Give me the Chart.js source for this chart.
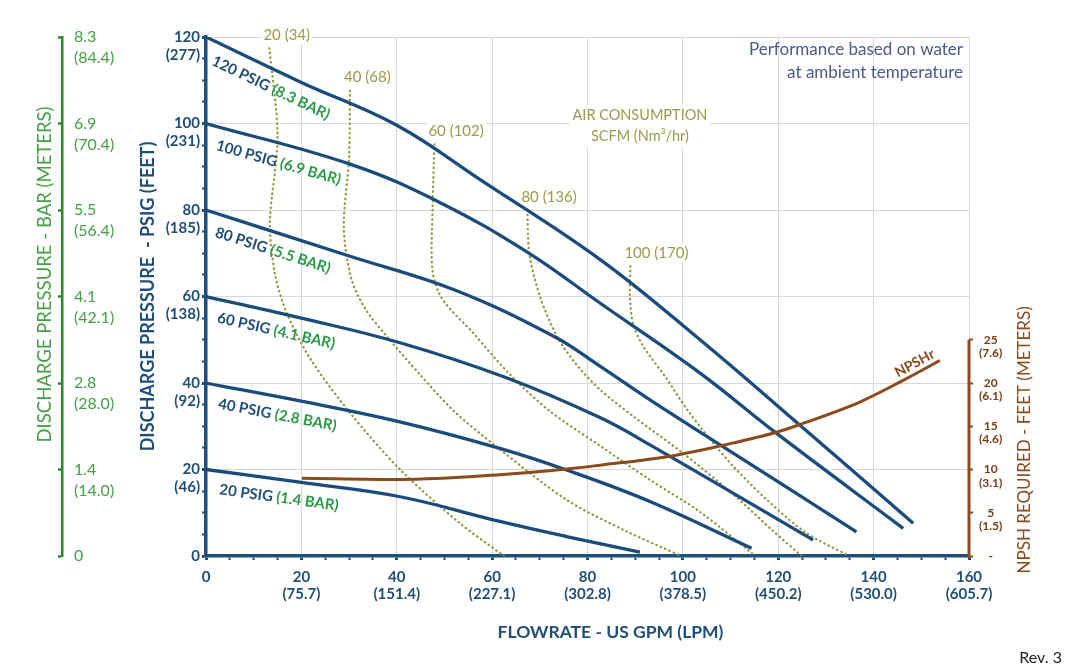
<!DOCTYPE html>
<html>
<head>
<meta charset="utf-8">
<script src="https://cdn.jsdelivr.net/npm/chart.js@4.4.1/dist/chart.umd.min.js"></script>
<style>
html,body{margin:0;padding:0;background:#fff;}
#wrap{position:relative;width:1066px;height:670px;}
#rev{position:absolute;right:4px;top:647px;font:16px Lato, sans-serif;color:#222;}
</style>
</head>
<body>
<div id="wrap"><canvas id="c"></canvas><div id="rev">Rev. 3</div></div>
<script>
// ---------- DATA ----------
const flowTickValues = [0, 20, 40, 60, 80, 100, 120, 140, 160];
const flowTickLabels = [['0'], ['20','(75.7)'], ['40','(151.4)'], ['60','(227.1)'], ['80','(302.8)'], ['100','(378.5)'], ['120','(450.2)'], ['140','(530.0)'], ['160','(605.7)']];

const psigTickValues = [0, 20, 40, 60, 80, 100, 120];
const psigTickLabels = [['0',''], ['20','(46)'], ['40','(92)'], ['60','(138)'], ['80','(185)'], ['100','(231)'], ['120','(277)']];
const barTickLabels  = [['0',''], ['1.4','(14.0)'], ['2.8','(28.0)'], ['4.1','(42.1)'], ['5.5','(56.4)'], ['6.9','(70.4)'], ['8.3','(84.4)']];

const npshTickValues = [0, 5, 10, 15, 20, 25];
const npshTickLabels = [['-',''], ['5','(1.5)'], ['10','(3.1)'], ['15','(4.6)'], ['20','(6.1)'], ['25','(7.6)']];

// Discharge pressure curves [GPM, PSIG]
const psig120 = [[0,120],[20,109.5],[40,99.6],[57.4,87.1],[82.6,68.6],[103.6,50],[124.5,30.3],[148.3,7.6]];
const psig100 = [[0,100],[30.2,90.6],[49.1,81.7],[67.6,70.1],[82.6,58.5],[103.6,42.3],[119.6,28.4],[146.2,6.4]];
const psig80  = [[0,80],[30.2,69.3],[51.9,61.6],[72.9,50.8],[82.6,43.9],[93.1,36.1],[108.4,25.3],[136.4,5.6]];
const psig60  = [[0,60],[20,55],[40.7,49.3],[63,41.2],[82.6,32],[93.1,25.7],[127.3,3.7]];
const psig40  = [[0,40],[20,35.8],[40,31.2],[61.6,24.9],[75.6,19.9],[93.1,12.6],[114.4,1.8]];
const psig20  = [[0,20],[20,17],[40.7,13.7],[61.6,8],[75.6,4.5],[91,0.9]];
const psigNames = ['120 PSIG', '100 PSIG', '80 PSIG', '60 PSIG', '40 PSIG', '20 PSIG'];
const barNames  = ['(8.3 BAR)', '(6.9 BAR)', '(5.5 BAR)', '(4.1 BAR)', '(2.8 BAR)', '(1.4 BAR)'];

// Air consumption curves [GPM, PSIG]
const air20  = [[13.3,117.4],[15,97],[13.4,77],[14.5,65],[17,56],[22,45.4],[30.2,33.1],[40.7,20],[53.2,7.6],[62.5,0]];
const air40  = [[30.2,107.6],[30,92],[28.9,76],[30.5,64],[33.5,57],[37.9,50.8],[44.9,41.9],[52,33.5],[60.9,25.3],[75.6,13],[88,5.8],[99.7,0]];
const air60  = [[47.9,95.2],[47.5,80],[47.5,66],[49.5,59.5],[56,51.6],[63.7,42],[72.1,33.5],[82.6,25.5],[93.1,17.6],[103.6,10.2],[115.2,0]];
const air80  = [[67.4,80],[67.8,70],[70,60.1],[73.5,51],[77.5,44.5],[82.6,38.5],[89.6,32.3],[100,23.8],[110.6,14.2],[118.9,5.8],[124.9,0]];
const air100 = [[89,67],[88.9,60],[89.6,53.5],[91.7,48.5],[96.6,41],[100.8,34],[105.7,27],[110.6,20.7],[117.6,13],[125.9,5.3],[134.9,0]];
const airNames = ['20 (34)', '40 (68)', '60 (102)', '80 (136)', '100 (170)'];

// NPSH required [GPM, FEET]
const npshCurve = [[20.1,9.0],[40.7,8.85],[61.6,9.4],[75.6,10.05],[82.6,10.5],[98,11.6],[108.4,12.8],[119.6,14.3],[124.5,15.2],[137.1,17.8],[145.5,20.1],[153.9,22.6]];

// ---------- STYLE ----------
const BLUE = '#1f4e79';
const CURVE = '#194b7c';
const GREEN_AX = '#2b8a2b';
const GREEN_TX = '#45a045';
const GREEN_LBL = '#2a9a48';
const OLIVE_DOT = '#8a983a';
const OLIVE_TX = '#9a9b48';
const BROWN = '#8a4a1c';
const GRID = '#d9d9d9';
const FONT = "Lato, 'Open Sans', sans-serif";
Chart.defaults.font.family = FONT;

const pressureCurves = [psig120, psig100, psig80, psig60, psig40, psig20];
const airCurves = [air20, air40, air60, air80, air100];
const toXY = arr => arr.map(([x, y]) => ({x, y}));

const datasets = [];
datasets.push({label: 'NPSHr', data: toXY(npshCurve), xAxisID: 'x', yAxisID: 'yN', showLine: true,
  borderColor: BROWN, borderWidth: 3, pointRadius: 0, cubicInterpolationMode: 'monotone'});
pressureCurves.forEach((c, i) => datasets.push({label: psigNames[i], data: toXY(c), xAxisID: 'x', yAxisID: 'y',
  showLine: true, borderColor: CURVE, borderWidth: 3.3, pointRadius: 0, tension: 0.4}));
airCurves.forEach((c, i) => datasets.push({label: airNames[i], data: toXY(c), xAxisID: 'x', yAxisID: 'y',
  showLine: true, borderColor: OLIVE_DOT, borderWidth: 2.2, borderDash: [0.5, 4.2], borderCapStyle: 'round',
  pointRadius: 0, tension: 0.3}));

const labelFor = (values, labels) => v => { const i = values.indexOf(v); return i >= 0 ? labels[i] : ''; };

const AIR_FONT = '15px ' + FONT;
const airLabelPos = (x, y, c) => [x.getPixelForValue(c[0][0]) - 6, y.getPixelForValue(c[0][1]) - 13];

const annotations = {
  id: 'annotations',
  beforeDatasetsDraw(chart) {
    const {ctx, scales: {x, y}} = chart;
    ctx.save();
    ctx.fillStyle = '#fff';
    ctx.font = AIR_FONT;
    airCurves.forEach((c, i) => {
      const [X, Y] = airLabelPos(x, y, c);
      const w = ctx.measureText(airNames[i]).width;
      ctx.fillRect(X - 2, Y - 9, w + 4, 18);
    });
    const cx = x.getPixelForValue(91), cy = y.getPixelForValue(102);
    ctx.fillRect(cx - 70, cy - 10, 140, 42);
    ctx.restore();
  },
  afterDatasetsDraw(chart) {
    const {ctx, chartArea, scales: {x, y, yN}} = chart;
    ctx.save();
    ctx.textBaseline = 'middle';
    ctx.textAlign = 'left';
    // pressure curve labels, following each curve's starting slope
    pressureCurves.forEach((c, i) => {
      const p0 = c[0];
      const p1 = c.find(p => p[0] >= 20);
      const X0 = x.getPixelForValue(p0[0]), Y0 = y.getPixelForValue(p0[1]);
      const X1 = x.getPixelForValue(p1[0]), Y1 = y.getPixelForValue(p1[1]);
      const ang = Math.atan2(Y1 - Y0, X1 - X0);
      ctx.save();
      ctx.translate(X0, Y0);
      ctx.rotate(ang);
      ctx.font = 'bold 15px ' + FONT;
      ctx.fillStyle = BLUE;
      ctx.fillText(psigNames[i], 16, 18);
      const w = ctx.measureText(psigNames[i] + ' ').width;
      ctx.fillStyle = GREEN_LBL;
      ctx.fillText(barNames[i], 16 + w, 18);
      ctx.restore();
    });
    // air consumption labels
    ctx.font = AIR_FONT;
    ctx.fillStyle = OLIVE_TX;
    airCurves.forEach((c, i) => {
      const [X, Y] = airLabelPos(x, y, c);
      ctx.fillText(airNames[i], X, Y);
    });
    ctx.textAlign = 'center';
    ctx.font = '14.5px ' + FONT;
    const cx = x.getPixelForValue(91), cy = y.getPixelForValue(102);
    ctx.fillText('AIR CONSUMPTION', cx, cy);
    ctx.fillText('SCFM (Nm³/hr)', cx, cy + 21);
    // note
    ctx.textAlign = 'right';
    ctx.font = '17px ' + FONT;
    ctx.fillStyle = '#4a5a8a';
    ctx.fillText('Performance based on water', chartArea.right - 6, chartArea.top + 13);
    ctx.fillText('at ambient temperature', chartArea.right - 6, chartArea.top + 36);
    // NPSHr label along the end of the curve
    const n = npshCurve.length;
    const A = npshCurve[n - 2], B = npshCurve[n - 1];
    const XA = x.getPixelForValue(A[0]), YA = yN.getPixelForValue(A[1]);
    const XB = x.getPixelForValue(B[0]), YB = yN.getPixelForValue(B[1]);
    ctx.save();
    ctx.translate(XB, YB);
    ctx.rotate(Math.atan2(YB - YA, XB - XA));
    ctx.font = 'bold 14px ' + FONT;
    ctx.fillStyle = BROWN;
    ctx.textAlign = 'right';
    ctx.textBaseline = 'alphabetic';
    ctx.fillText('NPSHr', -2, -5);
    ctx.restore();
    ctx.restore();
  },
  afterDraw(chart) {
    const {ctx, chartArea, scales: {x, yN, yBar}} = chart;
    const pLo = yN.getPixelForValue(npshTickValues[0]);
    const pHi = yN.getPixelForValue(npshTickValues[npshTickValues.length - 1]);
    ctx.save();
    ctx.strokeStyle = BROWN;
    ctx.lineWidth = 3;
    ctx.beginPath();
    ctx.moveTo(yN.left, pLo + 1.5);
    ctx.lineTo(yN.left, pHi);
    ctx.stroke();
    ctx.textAlign = 'center';
    ctx.textBaseline = 'middle';
    // NPSH axis title (reads bottom to top)
    ctx.save();
    ctx.translate(yN.left + 56, (pLo + pHi) / 2 - 8);
    ctx.rotate(-Math.PI / 2);
    ctx.font = '17px ' + FONT;
    ctx.fillStyle = BROWN;
    ctx.fillText('NPSH REQUIRED - FEET (METERS)', 0, 0);
    ctx.restore();
    // BAR axis title
    ctx.save();
    ctx.translate(yBar.left + 15, (chartArea.top + chartArea.bottom) / 2 - 22);
    ctx.rotate(-Math.PI / 2);
    ctx.font = '18.5px ' + FONT;
    ctx.fillStyle = GREEN_TX;
    ctx.fillText('DISCHARGE PRESSURE - BAR (METERS)', 0, 0);
    ctx.restore();
    // Flowrate axis title
    ctx.font = 'bold 17.5px ' + FONT;
    ctx.fillStyle = BLUE;
    ctx.fillText('FLOWRATE - US GPM (LPM)', (chartArea.left + chartArea.right) / 2 + 23, x.bottom - 14);
    ctx.restore();
  }
};

new Chart(document.getElementById('c'), {
  type: 'scatter',
  data: {datasets},
  plugins: [annotations],
  options: {
    responsive: true,
    maintainAspectRatio: false,
    animation: false,
    events: [],
    layout: {padding: {left: 30, right: 37, top: 37, bottom: 24}},
    plugins: {legend: {display: false}, tooltip: {enabled: false}},
    scales: {
      x: {
        type: 'linear', position: 'bottom', min: 0, max: 160,
        border: {color: BLUE, width: 3.5},
        grid: {
          color: c => (c.tick && c.tick.value % 20 === 0) ? GRID : 'rgba(0,0,0,0)',
          tickColor: BLUE, tickLength: 4,
          tickWidth: c => (c.tick && c.tick.value % 20 === 0) ? 3 : 2
        },
        ticks: {
          stepSize: 5, autoSkip: false, maxRotation: 0, minRotation: 0, padding: 9,
          color: BLUE, font: {size: 15, weight: 'bold', lineHeight: 1.1},
          callback: labelFor(flowTickValues, flowTickLabels)
        },
        title: {display: false},
        afterFit: s => { s.height = 90; }
      },
      y: {
        type: 'linear', position: 'left', weight: 0, min: 0, max: 120,
        border: {color: BLUE, width: 3.5},
        grid: {
          color: c => (c.tick && c.tick.value % 20 === 0) ? GRID : 'rgba(0,0,0,0)',
          tickColor: BLUE, tickLength: 4,
          tickWidth: c => (c.tick && c.tick.value % 20 === 0) ? 3 : 2
        },
        ticks: {
          stepSize: 5, autoSkip: false, padding: 2, labelOffset: 9,
          color: BLUE, font: {size: 15, weight: 'bold', lineHeight: 1.2},
          callback: labelFor(psigTickValues, psigTickLabels)
        },
        title: {display: true, text: 'DISCHARGE PRESSURE  - PSIG (FEET)', color: BLUE,
          font: {size: 18, weight: 'bold'}, padding: {top: 4, bottom: 4}},
        afterFit: s => { s.width = 73; }
      },
      ySp: {
        type: 'linear', position: 'left', weight: 1, min: 0, max: 1,
        border: {display: false}, grid: {display: false}, ticks: {display: false},
        afterFit: s => { s.width = 71; }
      },
      yBar: {
        type: 'linear', position: 'left', weight: 2, min: 0, max: 120,
        border: {color: GREEN_AX, width: 2.5},
        grid: {drawOnChartArea: false, color: GREEN_AX, tickLength: 4, tickWidth: 2.5},
        ticks: {
          stepSize: 20, autoSkip: false, mirror: true, padding: 12, labelOffset: 10.5,
          color: GREEN_TX, font: {size: 16, lineHeight: 1.3},
          callback: labelFor(psigTickValues, barTickLabels)
        },
        title: {display: false},
        afterFit: s => { s.width = 32; }
      },
      yN: {
        type: 'linear', position: 'right', min: 0, max: 60,
        border: {display: false},
        grid: {drawOnChartArea: false, color: BROWN, tickLength: 4, tickWidth: 2},
        afterBuildTicks: s => { s.ticks = npshTickValues.map(v => ({value: v})); },
        ticks: {
          autoSkip: false, padding: 6, crossAlign: 'center', labelOffset: 6.6,
          color: '#7a3d15', font: {size: 12, weight: 'bold', lineHeight: 1.1},
          callback: labelFor(npshTickValues, npshTickLabels)
        },
        title: {display: false},
        afterFit: s => { s.width = 60; }
      }
    }
  }
});
</script>
</body>
</html>
